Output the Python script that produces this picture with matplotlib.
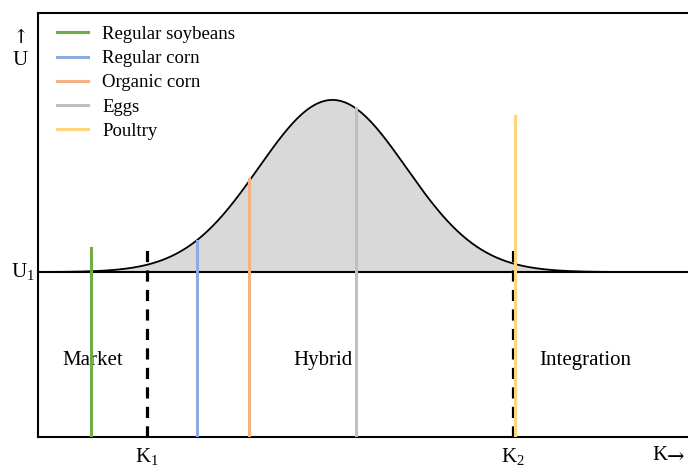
import numpy as np
import matplotlib
matplotlib.use("Agg")
import matplotlib.pyplot as plt

plt.rcParams['font.family'] = ['Liberation Serif', 'DejaVu Serif']

# Data (x in 0..10, y in 0..10)
u1 = 3.89
peak_x = 4.55
peak_h = 4.06
sigma = 1.14
k1 = 1.69
k2 = 7.34
dash_top = 4.46

products = ["Regular soybeans", "Regular corn", "Organic corn", "Eggs", "Poultry"]
product_x = [0.82, 2.45, 3.26, 4.91, 7.37]
product_top = [4.46, 4.62, 6.08, 7.76, 7.57]
colors = ["#70ad47", "#8faadc", "#f4b183", "#bfbfbf", "#ffd47f"]

regions = ["Market", "Hybrid", "Integration"]
region_x = [0.85, 4.4, 8.46]
region_y = 1.80

fig = plt.figure(figsize=(6.88, 4.67), dpi=100)
ax = fig.add_axes([38/688, 30/467, 1 - 38/688 + 0.01, (437-13)/467])
ax.set_xlim(0, 10.15)
ax.set_ylim(0, 10)

xs = np.linspace(0, 10.15, 800)
ys = u1 + peak_h * np.exp(-(xs - peak_x) ** 2 / (2 * sigma ** 2))
ax.fill_between(xs, u1, ys, color="#d9d9d9", lw=0, zorder=1)
ax.plot(xs, ys, color="black", lw=1.3, zorder=3)
ax.axhline(u1, color="black", lw=1.5, zorder=3)

for k in [k1, k2]:
    ax.plot([k, k], [0, dash_top], color="black", lw=2.3, ls=(0, (3.5, 2.6)), zorder=4)

for name, x, top, c in zip(products, product_x, product_top, colors):
    ax.plot([x, x], [0, top], color=c, lw=2.2, label=name, zorder=5)

for name, x in zip(regions, region_x):
    ax.text(x, region_y, name, ha="center", va="center", fontsize=15)

leg = ax.legend(loc="upper left", frameon=False, fontsize=13.5, handlelength=1.65,
                labelspacing=0.38, bbox_to_anchor=(0.029, 0.970), borderaxespad=0.0,
                handletextpad=0.75, borderpad=0.0)

ax.spines["right"].set_visible(False)
for s in ["left", "bottom", "top"]:
    ax.spines[s].set_linewidth(1.5)

ax.set_xticks([])
ax.set_yticks([])

ax.text(k1, -0.22, r"K$_{\mathregular{1}}$", ha="center", va="top", fontsize=15)
ax.text(k2, -0.22, r"K$_{\mathregular{2}}$", ha="center", va="top", fontsize=15)
ax.text(9.72, -0.22, "K", ha="right", va="top", fontsize=15)
ax.text(9.72, -0.47, "→", ha="left", va="center", fontsize=15, family="DejaVu Serif")
ax.text(-0.05, u1, r"U$_{\mathregular{1}}$", ha="right", va="center", fontsize=15)
ax.text(-0.27, 9.4, "↑", ha="center", va="center", fontsize=14, family="DejaVu Serif")
ax.text(-0.27, 8.89, "U", ha="center", va="center", fontsize=15)

fig.savefig("out.png", dpi=100)
